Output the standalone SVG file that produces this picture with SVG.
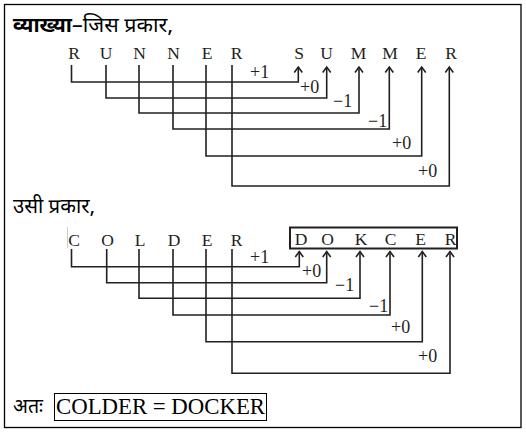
<svg xmlns="http://www.w3.org/2000/svg" width="526" height="433" viewBox="0 0 526 433">
<defs>
<style>
.hi{fill:#000}
.let{fill:#231f20;text-anchor:middle}
.lab{fill:#231f20}
.conn path{fill:none;stroke:#231f20;stroke-width:1.6}
</style>
<marker id="ah" viewBox="-6 -6 12 12" markerWidth="12" markerHeight="12" refX="0" refY="0" orient="auto" markerUnits="userSpaceOnUse">
<path d="M-5.5,-4 L0,0 L-5.5,4" fill="none" stroke="#231f20" stroke-width="1.6"/>
</marker>
</defs>
<rect x="4.5" y="4.5" width="516.5" height="423" fill="#fff" stroke="#000" stroke-width="1.3"/>

<g id="title" font-family="Noto Sans Devanagari, Noto Sans, sans-serif" font-size="20">
<text class="hi" x="13" y="32" font-weight="bold" textLength="59" lengthAdjust="spacingAndGlyphs">व्याख्या</text>
<text class="hi" x="72" y="32" textLength="101" lengthAdjust="spacingAndGlyphs">–जिस प्रकार,</text>
</g>

<g id="src1" font-family="Liberation Serif, Times New Roman, serif" font-size="17.5">
<text class="let" x="74" y="59">R</text>
<text class="let" x="106" y="59">U</text>
<text class="let" x="139.5" y="59">N</text>
<text class="let" x="173.5" y="59">N</text>
<text class="let" x="207" y="59">E</text>
<text class="let" x="236.5" y="59">R</text>
</g>
<g id="dst1" font-family="Liberation Serif, Times New Roman, serif" font-size="17.5">
<text class="let" x="299" y="59">S</text>
<text class="let" x="326.5" y="59">U</text>
<text class="let" x="358.5" y="59">M</text>
<text class="let" x="390" y="59">M</text>
<text class="let" x="421" y="59">E</text>
<text class="let" x="451" y="59">R</text>
</g>

<g class="conn" id="connectors1">
<path d="M71.5,65 V82 H298.3 V67" marker-end="url(#ah)"/>
<path d="M106,65 V98 H326.7 V67" marker-end="url(#ah)"/>
<path d="M139,65 V113 H359 V67" marker-end="url(#ah)"/>
<path d="M173,65 V129 H389.3 V67" marker-end="url(#ah)"/>
<path d="M206,65 V156 H421.7 V67" marker-end="url(#ah)"/>
<path d="M232,65 V186 H449.3 V67" marker-end="url(#ah)"/>
</g>
<g id="labels1" font-family="Liberation Serif, Times New Roman, serif" font-size="18">
<text class="lab" x="250" y="78">+1</text>
<text class="lab" x="300" y="93">+0</text>
<text class="lab" x="333" y="107">−1</text>
<text class="lab" x="368" y="127">−1</text>
<text class="lab" x="392" y="149">+0</text>
<text class="lab" x="418" y="177">+0</text>
</g>

<g id="title2" font-family="Noto Sans Devanagari, Noto Sans, sans-serif" font-size="20">
<text class="hi" x="13" y="213" textLength="82" lengthAdjust="spacingAndGlyphs">उसी प्रकार,</text>
</g>

<line x1="67.5" y1="227" x2="67.5" y2="248" stroke="#ccc" stroke-width="1"/>
<g id="src2" font-family="Liberation Serif, Times New Roman, serif" font-size="17.5">
<text class="let" x="74" y="246">C</text>
<text class="let" x="107.5" y="246">O</text>
<text class="let" x="140" y="246">L</text>
<text class="let" x="174" y="246">D</text>
<text class="let" x="207" y="246">E</text>
<text class="let" x="236.5" y="246">R</text>
</g>
<g id="dst2" font-family="Liberation Serif, Times New Roman, serif" font-size="17.5">
<rect x="290" y="227.5" width="167" height="21" fill="none" stroke="#231f20" stroke-width="2"/>
<text class="let" x="301" y="244.5">D</text>
<text class="let" x="327.5" y="244.5">O</text>
<text class="let" x="361" y="244.5">K</text>
<text class="let" x="390.5" y="244.5">C</text>
<text class="let" x="420.5" y="244.5">E</text>
<text class="let" x="450.5" y="244.5">R</text>
</g>

<g class="conn" id="connectors2">
<path d="M71.5,249 V266.7 H299.3 V251.5" marker-end="url(#ah)"/>
<path d="M106.7,249 V282.7 H326.7 V251.5" marker-end="url(#ah)"/>
<path d="M139,249 V298.3 H360 V251.5" marker-end="url(#ah)"/>
<path d="M173,249 V315 H390 V251.5" marker-end="url(#ah)"/>
<path d="M206,249 V341.7 H422.3 V251.5" marker-end="url(#ah)"/>
<path d="M232,249 V373.3 H450 V251.5" marker-end="url(#ah)"/>
</g>
<g id="labels2" font-family="Liberation Serif, Times New Roman, serif" font-size="18">
<text class="lab" x="250" y="263">+1</text>
<text class="lab" x="302" y="277">+0</text>
<text class="lab" x="335" y="291">−1</text>
<text class="lab" x="369" y="312">−1</text>
<text class="lab" x="391" y="333">+0</text>
<text class="lab" x="418" y="362">+0</text>
</g>

<g id="answer">
<text class="hi" x="13" y="413" font-family="Noto Sans Devanagari, Noto Sans, sans-serif" font-size="20" textLength="30" lengthAdjust="spacingAndGlyphs">अतः</text>
<rect x="54.5" y="393.5" width="212" height="27" fill="none" stroke="#000" stroke-width="1"/>
<text x="56" y="414" font-family="Liberation Serif, Times New Roman, serif" font-size="22.5" fill="#000" textLength="209" lengthAdjust="spacingAndGlyphs">COLDER = DOCKER</text>
</g>
</svg>
